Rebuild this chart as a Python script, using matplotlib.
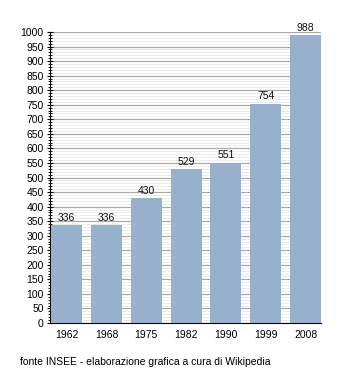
import matplotlib
matplotlib.use("Agg")
import matplotlib.pyplot as plt
from matplotlib.ticker import MultipleLocator

years = ["1962", "1968", "1975", "1982", "1990", "1999", "2008"]
population = [336, 336, 430, 529, 551, 754, 988]

plt.rcParams['font.family'] = ['Liberation Sans', 'DejaVu Sans']

fig = plt.figure(figsize=(3.5, 3.73), dpi=100)
ax = fig.add_axes([50/350, 1-323/373, 271/350, 291/373])

x = list(range(len(years)))
w = 31/40
ax.bar(x, population, width=w, color="#97b0cb", zorder=3)
for xi, v in zip(x, population):
    ax.text(xi, v + 8, str(v), ha="center", va="bottom", fontsize=7.5, color="#111111", zorder=4)

ax.set_xlim(-w/2 - 0.03, len(years) - 1 + w/2)
ax.set_ylim(0, 1000)
ax.yaxis.set_major_locator(MultipleLocator(50))
ax.yaxis.set_minor_locator(MultipleLocator(10))
ax.grid(axis="y", which="major", color="#aaaaaa", linewidth=0.9, zorder=1)
ax.grid(axis="y", which="minor", color="#ebebeb", linewidth=0.7, zorder=0)
ax.set_xticks(x)
ax.set_xticklabels(years)
ax.tick_params(axis="x", length=0, labelsize=7.5, pad=5)
ax.tick_params(axis="y", which="major", direction="inout", length=5, width=0.8, labelsize=7.5, pad=2)
ax.tick_params(axis="y", which="minor", direction="inout", length=3, width=0.6)
for s in ["top", "right"]:
    ax.spines[s].set_visible(False)
ax.spines["left"].set_linewidth(0.8)
ax.spines["bottom"].set_linewidth(0.8)
ax.set_axisbelow(True)

fig.text(20/350, 1-362/373, "fonte INSEE - elaborazione grafica a cura di Wikipedia",
         fontsize=7.5, ha="left", va="center")

fig.savefig("out.png", dpi=100)
